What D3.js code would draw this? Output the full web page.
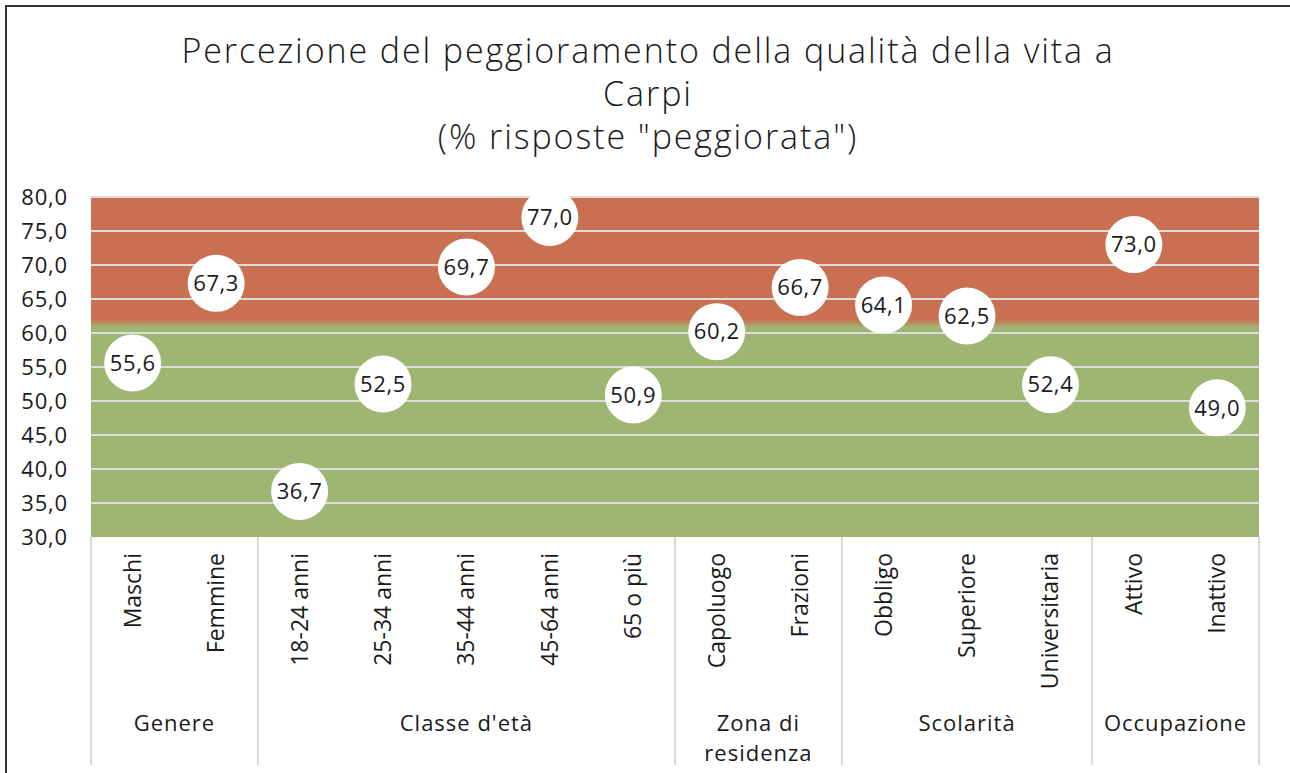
<!DOCTYPE html>
<html>
<head>
<meta charset="utf-8">
<script src="https://cdn.jsdelivr.net/npm/d3@7"></script>
<style>
    body { margin: 0; background: #fff; }
    svg text { font-family: "Open Sans", "Noto Sans", sans-serif; fill: #1a1a1a; }
</style>
</head>
<body>
<svg id="grafico"></svg>
<script>
// dati
const categorie = ['Maschi', 'Femmine', '18-24 anni', '25-34 anni', '35-44 anni', '45-64 anni', '65 o più',
    'Capoluogo', 'Frazioni', 'Obbligo', 'Superiore', 'Universitaria', 'Attivo', 'Inattivo'];
const gruppi = ['Genere', 'Genere', "Classe d'età", "Classe d'età", "Classe d'età", "Classe d'età", "Classe d'età",
    'Zona di residenza', 'Zona di residenza', 'Scolarità', 'Scolarità', 'Scolarità', 'Occupazione', 'Occupazione'];
const valori = [55.6, 67.3, 36.7, 52.5, 69.7, 77.0, 50.9, 60.2, 66.7, 64.1, 62.5, 52.4, 73.0, 49.0];
const soglia = 61.4; // confine verde / rosso dello sfondo
const tickY = [30, 35, 40, 45, 50, 55, 60, 65, 70, 75, 80];
const titolo = ['Percezione del peggioramento della qualità della vita a', 'Carpi', '(% risposte "peggiorata")'];

const larghezza = 1290, altezza = 773;
const margem = { sinistra: 91, destra: 31, superiore: 197, inferiore: 236 };
const larghezzaPlot = larghezza - margem.sinistra - margem.destra;
const altezzaPlot = altezza - margem.superiore - margem.inferiore;

const svg = d3.select('#grafico').attr('width', larghezza).attr('height', altezza);

// cornice
svg.append('path')
    .attr('d', 'M6,' + altezza + 'V6H' + larghezza)
    .attr('fill', 'none').attr('stroke', '#333').attr('stroke-width', 2);

// titolo
svg.append('text')
    .attr('text-anchor', 'middle')
    .style('font-size', '34px').style('font-weight', 300).style('letter-spacing', '1.9px')
    .selectAll('tspan').data(titolo).enter().append('tspan')
    .attr('x', 648)
    .attr('y', (d, i) => 63 + i * 43)
    .text(d => d);

const plot = svg.append('g')
    .attr('transform', 'translate(' + margem.sinistra + ',' + margem.superiore + ')');

const fnX = d3.scaleBand().domain(d3.range(categorie.length)).range([0, larghezzaPlot]);
const fnY = d3.scaleLinear().domain([30, 80]).range([altezzaPlot, 0]);

// sfondo a due colori con sfumatura sul confine
const defs = svg.append('defs');
const grad = defs.append('linearGradient').attr('id', 'sfondo')
    .attr('gradientUnits', 'userSpaceOnUse')
    .attr('x1', 0).attr('x2', 0).attr('y1', 0).attr('y2', altezzaPlot);
const ySoglia = fnY(soglia) / altezzaPlot;
grad.append('stop').attr('offset', 0).attr('stop-color', '#c87051');
grad.append('stop').attr('offset', ySoglia - 0.012).attr('stop-color', '#c87051');
grad.append('stop').attr('offset', ySoglia + 0.012).attr('stop-color', '#9fb672');
grad.append('stop').attr('offset', 1).attr('stop-color', '#9fb672');

plot.append('rect')
    .attr('x', 0).attr('y', 0)
    .attr('width', larghezzaPlot).attr('height', altezzaPlot)
    .attr('fill', 'url(#sfondo)');

// griglia
plot.append('g').selectAll('line').data(tickY.filter(t => t > 30)).enter().append('line')
    .attr('x1', 0).attr('x2', larghezzaPlot)
    .attr('y1', d => fnY(d)).attr('y2', d => fnY(d))
    .attr('stroke', '#dcdcdc').attr('stroke-width', 2);

// asse Y
const eixoY = d3.axisLeft(fnY).tickValues(tickY).tickSize(0).tickPadding(23)
    .tickFormat(d => d3.format('.1f')(d).replace('.', ','));
plot.append('g').call(eixoY)
    .call(g => g.select('.domain').remove())
    .selectAll('text').style('font-size', '22px').style('letter-spacing', '0.8px').attr('fill', '#1a1a1a');

// asse X a due livelli
const asse = plot.append('g').attr('transform', 'translate(0,' + altezzaPlot + ')');
const inizioGruppi = categorie.map((c, i) => i).filter(i => i === 0 || gruppi[i] !== gruppi[i - 1]);
const confini = inizioGruppi.concat([categorie.length]);

asse.selectAll('.separatore').data(confini).enter().append('line').classed('separatore', true)
    .attr('x1', d => d === categorie.length ? larghezzaPlot : fnX(d))
    .attr('x2', d => d === categorie.length ? larghezzaPlot : fnX(d))
    .attr('y1', 0).attr('y2', 228)
    .attr('stroke', '#d9d9d9').attr('stroke-width', 2);

asse.selectAll('.categoria').data(categorie).enter().append('text').classed('categoria', true)
    .attr('transform', (d, i) => 'translate(' + (fnX(i) + fnX.bandwidth() / 2 + 8) + ',16) rotate(-90)')
    .attr('text-anchor', 'end')
    .style('font-size', '23px')
    .text(d => d);

const etichetteGruppi = inizioGruppi.map((s, k) => ({ nome: gruppi[s], da: s, a: confini[k + 1] }));
asse.selectAll('.gruppo').data(etichetteGruppi).enter().append('text').classed('gruppo', true)
    .attr('text-anchor', 'middle')
    .style('font-size', '22px').style('letter-spacing', '1px')
    .each(function (d) {
        const t = d3.select(this);
        const cx = (fnX(d.da) + (d.a === categorie.length ? larghezzaPlot : fnX(d.a))) / 2;
        const largh = (d.a - d.da) * fnX.bandwidth() - 20;
        // a capo se il testo non entra
        const parole = d.nome.split(' ');
        let righe = [], riga = [];
        parole.forEach(p => {
            riga.push(p);
            t.text(riga.join(' '));
            if (this.getComputedTextLength() > largh && riga.length > 1) {
                riga.pop();
                righe.push(riga.join(' '));
                riga = [p];
            }
        });
        righe.push(riga.join(' '));
        t.text(null);
        righe.forEach((r, i) => {
            t.append('tspan').attr('x', cx).attr('y', 194 + i * 30).text(r);
        });
    });

// punti
const punti = plot.append('g').selectAll('g').data(valori).enter().append('g')
    .attr('transform', (d, i) => 'translate(' + (fnX(i) + fnX.bandwidth() / 2) + ',' + fnY(d) + ')');
punti.append('circle').attr('r', 28.5).attr('fill', '#fff');
punti.append('text')
    .attr('text-anchor', 'middle').attr('dy', '0.35em')
    .style('font-size', '22px').style('letter-spacing', '0.6px')
    .text(d => d3.format('.1f')(d).replace('.', ','));
</script>
</body>
</html>
